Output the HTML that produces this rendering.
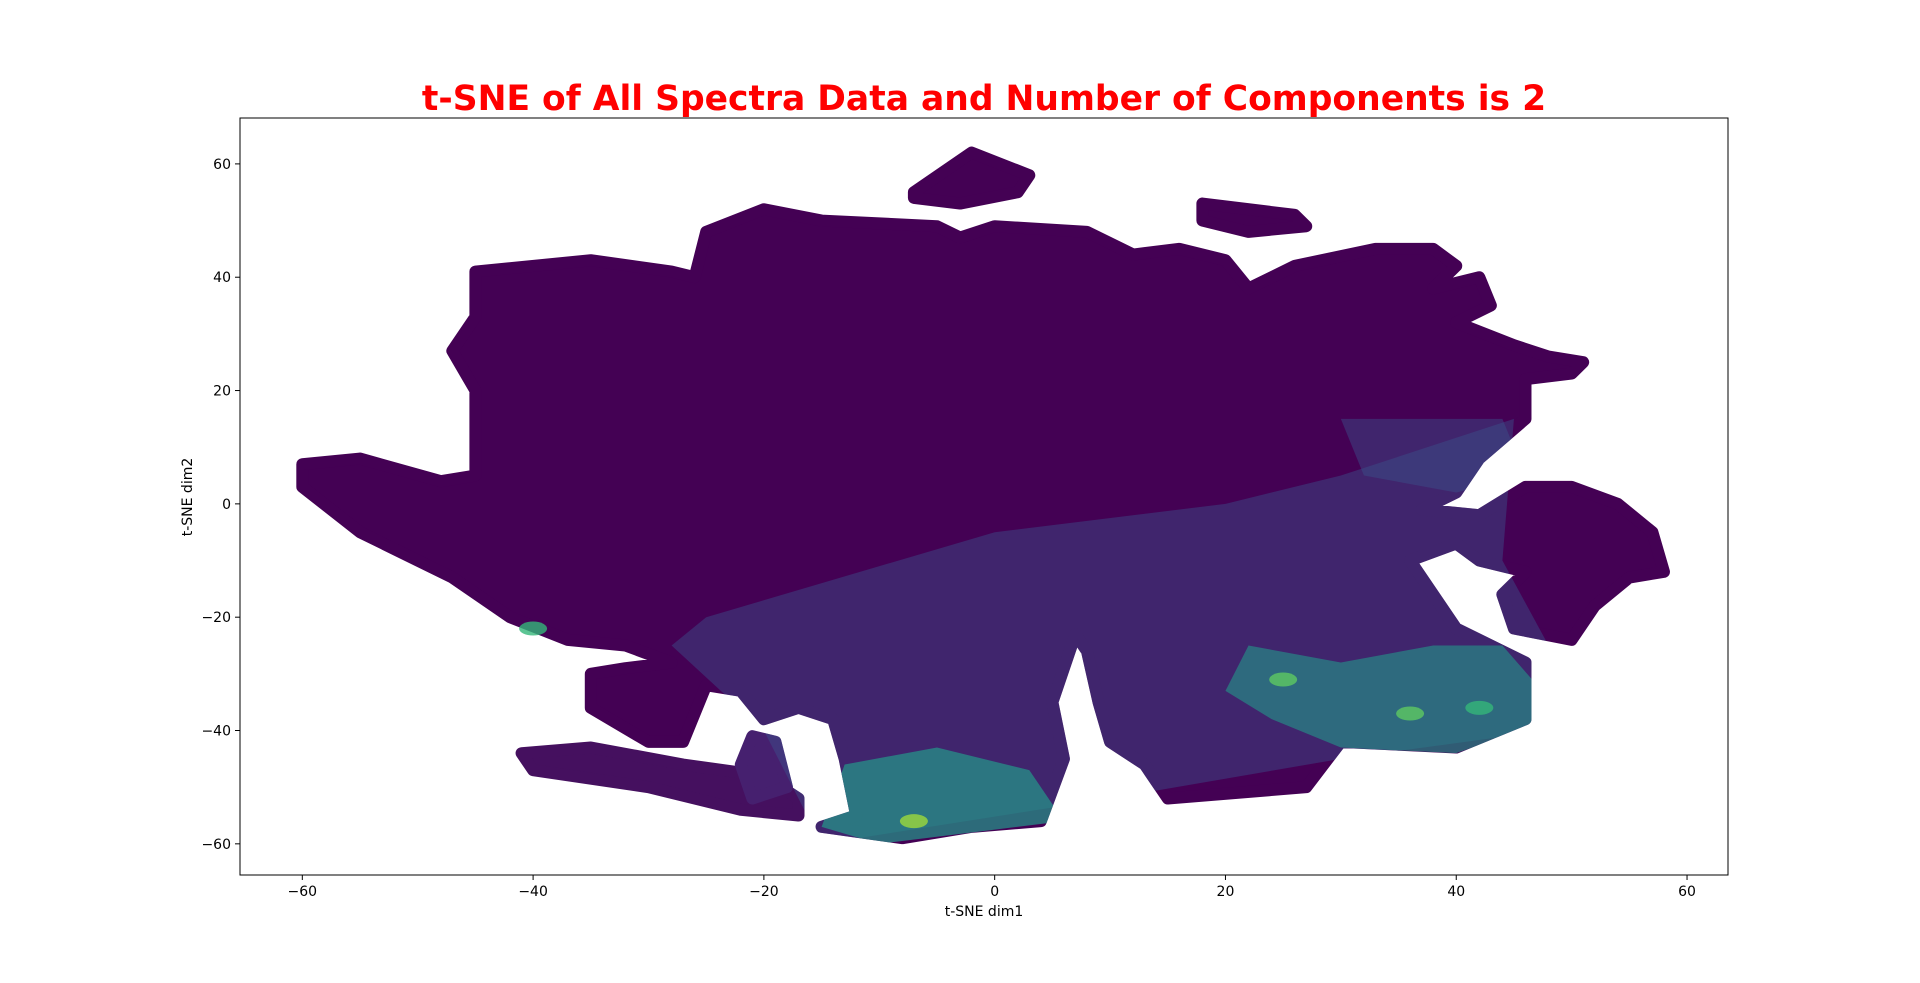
<!DOCTYPE html>
<html><head><meta charset="utf-8"><style>
html,body{margin:0;padding:0;background:#fff;}
svg{display:block;font-family:"DejaVu Sans","Liberation Sans",sans-serif;}
</style></head><body>
<svg id="chart" width="1920" height="983" viewBox="0 0 1920 983" xmlns="http://www.w3.org/2000/svg">
<defs><mask id="massMask" maskUnits="userSpaceOnUse" x="0" y="0" width="1920" height="983"></mask></defs>
<text x="984" y="110" text-anchor="middle" font-size="34.5" font-weight="bold" fill="#ff0000">t-SNE of All Spectra Data and Number of Components is 2</text>
<g id="marks"></g>
<g id="over" mask="url(#massMask)"></g>
<g id="spots"></g>
<rect x="240" y="118" width="1488" height="757" fill="none" stroke="#000" stroke-width="1"/>
<g id="axes"></g>
<text x="984" y="916" text-anchor="middle" font-size="14">t-SNE dim1</text>
<text x="192" y="497" text-anchor="middle" font-size="14" transform="rotate(-90 192 497)">t-SNE dim2</text>
</svg>
<script>
const xTicks=[-60,-40,-20,0,20,40,60];
const yTicks=[-60,-40,-20,0,20,40,60];
const mainX=[-60,-55,-48,-45,-45,-47,-45,-45,-35,-28,-26,-25,-20,-15,-5,-3,0,8,12,16,20,22,26,33,38,40,38,42,43,40,45,48,51,50,46,46,42,40,37,42,46,50,54,57,58,55,52,50,45,44,46,42,40,36,40,46,46,40,30,27,15,13,10,9,8,7,5,6,4,-2,-8,-15,-12,-13,-14,-17,-20,-22,-25,-27,-30,-35,-35,-32,-28,-32,-37,-42,-47,-55,-60];
const mainY=[7,8,4,5,20,27,33,41,43,41,40,48,52,50,49,47,49,48,44,45,43,38,42,45,45,42,38,40,35,32,28,26,25,23,22,15,8,2,-1,-2,3,3,0,-5,-12,-13,-18,-24,-22,-16,-12,-10,-7,-10,-22,-28,-38,-43,-42,-50,-52,-46,-42,-35,-26,-23,-35,-45,-56,-57,-59,-57,-55,-45,-38,-36,-38,-33,-32,-42,-42,-36,-30,-29,-28,-25,-24,-20,-13,-5,3];
const topX=[-7,-2,3,2,-3,-7];const topY=[55,62,58,55,53,54];
const tr1X=[18,26,27,22,18];const tr1Y=[53,51,49,48,50];
const bandX=[-41,-35,-27,-20,-17,-17,-22,-30,-40];const bandY=[-44,-43,-46,-48,-52,-55,-54,-50,-47];
const stemX=[-21,-19,-18,-21,-22];const stemY=[-41,-42,-50,-52,-46];
const blueX=[-25,0,20,30,45,44,48,48,30,10,-15,-20,-28];const blueY=[-20,-5,0,5,15,-10,-25,-40,-45,-52,-60,-40,-25];
const teal1X=[-13,-5,3,6,-2,-10,-15];const teal1Y=[-46,-43,-47,-56,-58,-60,-57];
const teal2X=[22,30,38,44,47,47,40,30,24,20];const teal2Y=[-25,-28,-25,-25,-32,-39,-44,-43,-38,-33];
const blue2X=[30,44,46,40,32];const blue2Y=[15,15,5,2,5];
const spotX=[-7,25,36,42,-40];const spotY=[-56,-31,-37,-36,-22];const spotV=[0.85,0.8,0.75,0.7,0.6];
const xmin=-65.4,xmax=63.55,ymin=-65.5,ymax=68.1;
const L=240,R=1728,T=118,B=875;
const sx=v=>L+(v-xmin)/(xmax-xmin)*(R-L);
const sy=v=>B-(v-ymin)/(ymax-ymin)*(B-T);
const NS='http://www.w3.org/2000/svg';
const marks=document.getElementById('marks');
const over=document.getElementById('over');
const spots=document.getElementById('spots');
const mask=document.getElementById('massMask');
const pts=(xs,ys)=>xs.map((x,i)=>sx(x)+','+sy(ys[i])).join(' ');
function poly(parent,xs,ys,fill,op,name,sw){
 const p=document.createElementNS(NS,'polygon');
 p.setAttribute('points',pts(xs,ys));
 p.setAttribute('fill',fill);p.setAttribute('fill-opacity',op);
 if(sw){p.setAttribute('stroke',fill);p.setAttribute('stroke-opacity',op);
 p.setAttribute('stroke-width',sw);p.setAttribute('stroke-linejoin','round');}
 
 
 parent.appendChild(p);
 return p;
}
function maskPoly(xs,ys){
 const p=document.createElementNS(NS,'polygon');
 p.setAttribute('points',pts(xs,ys));
 p.setAttribute('fill','#fff');p.setAttribute('stroke','#fff');
 p.setAttribute('stroke-width',12);p.setAttribute('stroke-linejoin','round');
 mask.appendChild(p);
}
poly(marks,mainX,mainY,'#440154',1,'main-cluster',12);
poly(marks,topX,topY,'#440154',1,'top-cluster',12);
poly(marks,tr1X,tr1Y,'#440154',1,'top-right-cluster',12);
poly(marks,bandX,bandY,'#45105f',1,'bottom-left-band',12);
poly(marks,stemX,stemY,'#46206f',1,'bottom-left-stem',12);
maskPoly(mainX,mainY);maskPoly(bandX,bandY);maskPoly(stemX,stemY);
poly(over,blueX,blueY,'#3b528b',0.45,'blue-region',0);
poly(over,blue2X,blue2Y,'#3b528b',0.45,'blue-region-upper',0);
poly(over,teal1X,teal1Y,'#23998a',0.7,'teal-region-bottom',0);
poly(over,teal2X,teal2Y,'#23998a',0.6,'teal-region-right',0);
const cmap=v=>v>0.8?'#9dd93b':v>0.7?'#5ec962':'#35b779';
spotX.forEach((x,i)=>{
 const c=document.createElementNS(NS,'ellipse');
 c.setAttribute('cx',sx(x));c.setAttribute('cy',sy(spotY[i]));
 c.setAttribute('rx',14);c.setAttribute('ry',7);
 c.setAttribute('fill',cmap(spotV[i]));c.setAttribute('fill-opacity',0.8);
 
 
 spots.appendChild(c);
});
const axes=document.getElementById('axes');
function add(tag,attrs,txt){const e=document.createElementNS(NS,tag);for(const k in attrs)e.setAttribute(k,attrs[k]);if(txt!==undefined)e.textContent=txt;axes.appendChild(e);return e;}
const fmt=v=>v<0?'\u2212'+(-v):''+v;
xTicks.forEach(v=>{
 const t=add('line',{x1:sx(v),x2:sx(v),y1:B,y2:B+5,stroke:'#000'});
 
 
 const l=add('text',{x:sx(v),y:B+21,'text-anchor':'middle','font-size':14},fmt(v));
 
 
});
yTicks.forEach(v=>{
 const t=add('line',{x1:L-5,x2:L,y1:sy(v),y2:sy(v),stroke:'#000'});
 
 
 const l=add('text',{x:L-9,y:sy(v)+5,'text-anchor':'end','font-size':14},fmt(v));
 
 
});
</script>
</body></html>
